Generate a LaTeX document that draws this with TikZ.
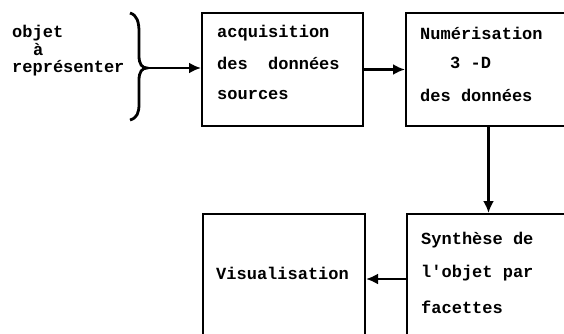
\documentclass[tikz,border=0pt]{standalone}
\usepackage{fontspec}
\setmonofont{Liberation Mono}
\usetikzlibrary{arrows.meta}
\newcommand{\txtline}[4]{\node[txt] (#1) at (#2,#3) {#4};}

\tikzset{
  txt/.style={anchor=west, inner sep=0pt, font=\ttfamily\bfseries\fontsize{17}{17}\selectfont},
  blok/.style={draw, line width=2pt, anchor=north west, inner sep=0pt},
  flow/.style={line width=2.8pt, -{Latex[length=12pt,width=11pt]}}
}

\begin{document}
\begin{tikzpicture}[x=1pt,y=-1pt]
        \useasboundingbox (0,0) rectangle (564,334);
        %boxes
        \node[blok, minimum width=161pt, minimum height=113pt] (acq) at (201,12) {};
        \node[blok, minimum width=165pt, minimum height=113pt] (num) at (405,12) {};
        \node[blok, minimum width=165pt, minimum height=130pt] (syn) at (406,213) {};
        \node[blok, minimum width=162pt, minimum height=130pt] (vis) at (202,213) {};
        %texts
        \txtline{obj1}{12}{33}{objet}
        \txtline{obj2}{33}{50}{à}
        \txtline{obj3}{12}{68}{représenter}
        \txtline{acq1}{217}{33}{acquisition}
        \txtline{acq2}{217}{63}{des\ \ données}
        \txtline{acq3}{217}{95}{sources}
        \txtline{num1}{420}{33}{Numérisation}
        \txtline{num2}{450}{63}{3 -D}
        \txtline{num3}{420}{95}{des données}
        \txtline{syn1}{421}{240}{Synthèse de}
        \txtline{syn2}{421}{273}{l'objet par}
        \txtline{syn3}{421}{307}{facettes}
        \txtline{vis1}{216}{273}{Visualisation}
        %brace
        \coordinate (tip) at (147,68);
        \draw[line width=2.8pt] (130,13) .. controls (137,15) and (139,22) .. (139,32) -- (139,56)
          .. controls (139,64) and (142,68) .. (tip)
          .. controls (142,68) and (139,72) .. (139,80) -- (139,104)
          .. controls (139,113) and (137,118) .. (130,120);
        %arrows
        \draw[flow] (tip) -- (tip -| acq.west);
        \draw[flow] (acq.east) -- (num.west);
        \draw[flow] (num.south) -- (num.south |- syn.north);
        \draw[flow] (syn.west) -- (vis.east);
\end{tikzpicture}
\end{document}
